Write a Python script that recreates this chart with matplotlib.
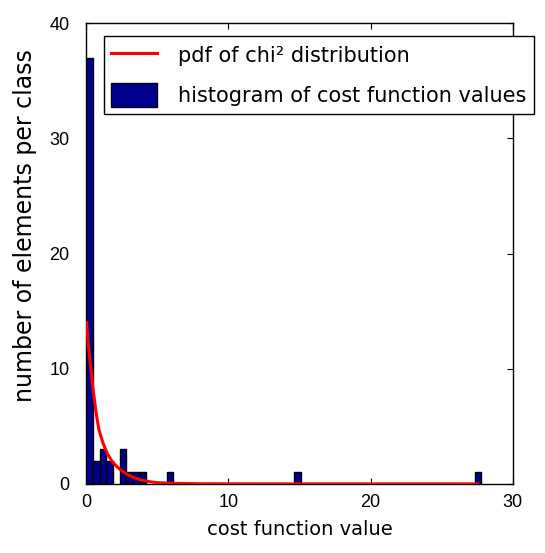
import numpy as np
import matplotlib.pyplot as plt

plt.rcParams['font.family'] = ['DejaVu Sans']

# histogram classes (centres), bin width and number of elements per class
class_centers = [0.24, 0.71, 1.18, 1.65, 2.59, 3.06, 3.53, 4.00, 5.89, 14.84, 27.55]
class_counts = [37, 2, 3, 2, 3, 1, 1, 1, 1, 1, 1]
bin_width = 0.471

# scaled chi^2 pdf, sampled along the curve
pdf_x = [0.03, 0.15, 0.30, 0.50, 0.70, 0.90, 1.20, 1.50, 1.80, 2.20, 2.60, 3.00,
         3.50, 4.00, 4.50, 5.00, 6.00, 8.00, 12.0, 16.0, 20.0, 24.0, 27.55]
pdf_y = [14.0, 12.2, 10.4, 8.1, 6.2, 4.7, 3.5, 2.6, 2.0, 1.45, 1.05, 0.75,
         0.48, 0.30, 0.18, 0.11, 0.05, 0.01, 0.0, 0.0, 0.0, 0.0, 0.0]

x_ticks = [0, 10, 20, 30]
y_ticks = [0, 10, 20, 30, 40]

fig = plt.figure(figsize=(5.45, 5.53), dpi=100)
ax = fig.add_axes([0.158, 0.125, 0.783, 0.833])

ax.plot(pdf_x, pdf_y, color='red', linewidth=2.2, label='pdf of chi\u00b2 distribution',
        zorder=3)
ax.bar(class_centers, class_counts, width=bin_width, color=(0, 0, 0.56),
       edgecolor='black', linewidth=1.0, label='histogram of cost function values',
       zorder=2)

ax.set_xlim(0, 30)
ax.set_ylim(0, 40)
ax.set_xticks(x_ticks)
ax.set_yticks(y_ticks)
ax.tick_params(direction='in', length=4, width=0.8, top=True, right=True,
               labelsize=13, colors='black')
for lab in ax.get_xticklabels() + ax.get_yticklabels():
    lab.set_family('Liberation Sans')
ax.tick_params(axis='x', pad=7)
ax.tick_params(axis='y', pad=12)
for s in ax.spines.values():
    s.set_linewidth(1.0)

ax.set_xlabel('cost function value', fontsize=14, labelpad=7)
ax.set_ylabel('number of elements per class', fontsize=17)
ax.yaxis.set_label_coords(-0.115, 0.56)

leg = ax.legend(loc='upper left',
                bbox_to_anchor=(104 / 545, 1 - 36 / 553), bbox_transform=fig.transFigure,
                fontsize=15, fancybox=False, framealpha=1, edgecolor='black',
                handlelength=2.2, handleheight=1.4, handletextpad=1.0,
                borderaxespad=0, borderpad=0.35, labelspacing=0.75)
leg.get_frame().set_linewidth(1.0)

fig.savefig('out.png', dpi=100)
